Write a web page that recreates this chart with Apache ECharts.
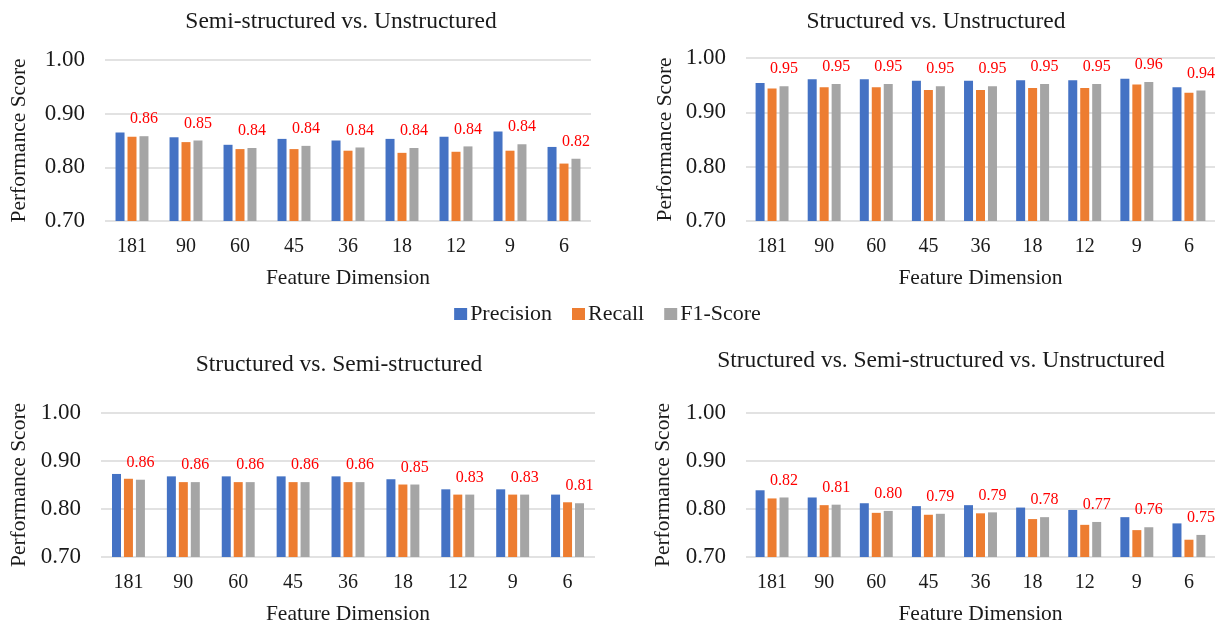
<!DOCTYPE html>
<html>
<head>
<meta charset="utf-8">
<script src="https://cdn.jsdelivr.net/npm/echarts@6/dist/echarts.min.js"></script>
<style>
  html, body { margin: 0; padding: 0; background: #fff; }
  #chart { width: 1215px; height: 626px; }
</style>
</head>
<body>
<div id="chart"></div>
<script>
// Feature dimensions on the category axis
const categories = ['181', '90', '60', '45', '36', '18', '12', '9', '6'];
const seriesNames = ['Precision', 'Recall', 'F1-Score'];
const yTicks = [0.70, 0.80, 0.90, 1.00];

// Semi-structured vs. Unstructured
const semiUnPrecision = [0.865, 0.856, 0.842, 0.853, 0.850, 0.853, 0.857, 0.867, 0.838];
const semiUnRecall    = [0.857, 0.847, 0.834, 0.834, 0.831, 0.827, 0.829, 0.831, 0.807];
const semiUnF1        = [0.858, 0.850, 0.836, 0.840, 0.837, 0.836, 0.839, 0.843, 0.816];

// Structured vs. Unstructured
const structUnPrecision = [0.954, 0.961, 0.961, 0.958, 0.958, 0.959, 0.959, 0.962, 0.946];
const structUnRecall    = [0.944, 0.946, 0.946, 0.941, 0.941, 0.945, 0.945, 0.951, 0.936];
const structUnF1        = [0.948, 0.952, 0.952, 0.948, 0.948, 0.952, 0.952, 0.956, 0.940];

// Structured vs. Semi-structured
const structSemiPrecision = [0.873, 0.868, 0.868, 0.868, 0.868, 0.862, 0.841, 0.841, 0.830];
const structSemiRecall    = [0.863, 0.856, 0.856, 0.856, 0.856, 0.851, 0.830, 0.830, 0.814];
const structSemiF1        = [0.861, 0.856, 0.856, 0.856, 0.856, 0.851, 0.830, 0.830, 0.812];

// Structured vs. Semi-structured vs. Unstructured
const allThreePrecision = [0.839, 0.824, 0.812, 0.806, 0.808, 0.803, 0.798, 0.783, 0.770];
const allThreeRecall    = [0.822, 0.808, 0.792, 0.788, 0.791, 0.779, 0.767, 0.756, 0.736];
const allThreeF1        = [0.824, 0.809, 0.796, 0.790, 0.793, 0.783, 0.773, 0.762, 0.746];

const panelTitles = [
  'Semi-structured vs. Unstructured',
  'Structured vs. Unstructured',
  'Structured vs. Semi-structured',
  'Structured vs. Semi-structured vs. Unstructured'
];
const panelData = [
  [semiUnPrecision, semiUnRecall, semiUnF1],
  [structUnPrecision, structUnRecall, structUnF1],
  [structSemiPrecision, structSemiRecall, structSemiF1],
  [allThreePrecision, allThreeRecall, allThreeF1]
];

// Layout of the four panels (pixels)
const layout = [
  { left: 105, top: 60,  width: 486, height: 161, titleX: 341, titleY: 22,  yNameGap: 75 },
  { left: 746, top: 58,  width: 470, height: 163, titleX: 936, titleY: 22,  yNameGap: 70 },
  { left: 101, top: 413, width: 494, height: 146, titleX: 339, titleY: 365, yNameGap: 71 },
  { left: 746, top: 413, width: 470, height: 146, titleX: 941, titleY: 361, yNameGap: 72 }
];

const colors = ['#4472C4', '#ED7D31', '#A5A5A5'];
const FONT = '"Liberation Serif", "Times New Roman", serif';
const TEXT = '#1a1a1a';

const grids = [], xAxes = [], yAxes = [], titles = [], series = [];
layout.forEach((p, i) => {
  grids.push({ left: p.left, top: p.top, width: p.width, height: p.height, containLabel: false });
  titles.push({
    text: panelTitles[i], left: p.titleX, top: p.titleY, padding: 0,
    textAlign: 'center', textVerticalAlign: 'middle',
    textStyle: { fontFamily: FONT, fontSize: 23.5, fontWeight: 'normal', color: TEXT }
  });
  xAxes.push({
    type: 'category', gridIndex: i, data: categories,
    axisTick: { show: false },
    axisLine: { show: false },
    axisLabel: { margin: 16, fontFamily: FONT, fontSize: 20, color: TEXT },
    name: 'Feature Dimension', nameLocation: 'middle', nameGap: 46,
    nameTextStyle: { fontFamily: FONT, fontSize: 21.5, color: TEXT }
  });
  yAxes.push({
    type: 'value', gridIndex: i,
    min: yTicks[0], max: yTicks[yTicks.length - 1], interval: 0.1,
    axisLine: { show: false }, axisTick: { show: false },
    splitLine: { lineStyle: { color: '#D9D9D9', width: 1.5 } },
    axisLabel: { margin: 20, fontFamily: FONT, fontSize: 23, color: TEXT,
                 formatter: v => v.toFixed(2) },
    name: 'Performance Score', nameLocation: 'middle', nameGap: p.yNameGap,
    nameTextStyle: { fontFamily: FONT, fontSize: 21.5, color: TEXT }
  });
  panelData[i].forEach((vals, k) => {
    const s = {
      name: seriesNames[k], type: 'bar', xAxisIndex: i, yAxisIndex: i,
      data: vals, barWidth: 9, barGap: '33%',
      itemStyle: { color: colors[k] },
      animation: false
    };
    if (k === 2) {
      s.label = {
        show: true, position: 'top', distance: 9,
        fontFamily: FONT, fontSize: 16, color: '#FF0000',
        formatter: d => d.value.toFixed(2)
      };
    }
    series.push(s);
  });
});

const chart = echarts.init(document.getElementById('chart'), null, { renderer: 'canvas' });
chart.setOption({
  animation: false,
  color: colors,
  title: titles,
  legend: {
    data: seriesNames, left: 'center', top: 303, padding: 0,
    itemWidth: 13, itemHeight: 12, itemGap: 20, icon: 'rect',
    textStyle: { fontFamily: FONT, fontSize: 22, color: TEXT, padding: [0, 0, 0, -2] }
  },
  grid: grids,
  xAxis: xAxes,
  yAxis: yAxes,
  series: series
});
</script>
</body>
</html>
